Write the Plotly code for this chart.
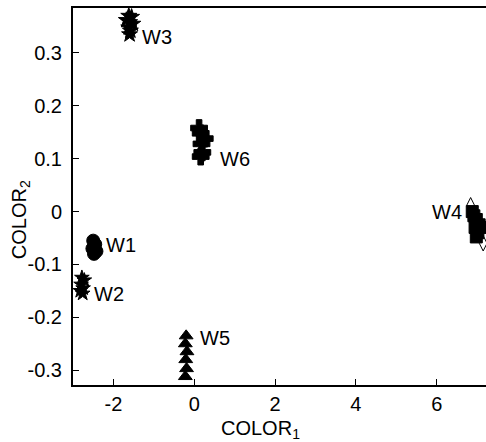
import plotly.graph_objects as go

# W1 – circles
w1_x = [-2.50, -2.45, -2.52, -2.42, -2.48]
w1_y = [-0.055, -0.062, -0.070, -0.075, -0.080]
# W2 – stars
w2_x = [-2.78, -2.72, -2.80, -2.75, -2.82, -2.76]
w2_y = [-0.125, -0.130, -0.138, -0.145, -0.150, -0.155]
# W3 – stars
w3_x = [-1.62, -1.55, -1.68, -1.60, -1.52, -1.62, -1.58, -1.60]
w3_y = [0.370, 0.368, 0.362, 0.358, 0.355, 0.348, 0.342, 0.335]
# W4 – squares (filled) and two outlined points
w4_x = [6.88, 6.92, 6.98, 7.05, 6.95, 7.02, 6.98, 7.10]
w4_y = [0.000, -0.008, -0.015, -0.025, -0.030, -0.040, -0.048, -0.030]
w4o_x = [6.84, 7.15]
w4o_y = [0.012, -0.060]
# W5 – triangles
w5_x = [-0.20, -0.22, -0.18, -0.21, -0.19, -0.22]
w5_y = [-0.235, -0.250, -0.265, -0.280, -0.297, -0.312]
# W6 – crosses
w6_x = [0.12, 0.16, 0.26, 0.18, 0.20, 0.16]
w6_y = [0.158, 0.148, 0.138, 0.128, 0.112, 0.104]

labels = ["W1", "W2", "W3", "W4", "W5", "W6"]
label_x = [-1.80, -2.10, -0.92, 6.25, 0.52, 1.00]
label_y = [-0.063, -0.155, 0.330, 0.0, -0.240, 0.100]

groups = [
    (w1_x, w1_y, "circle", 13),
    (w2_x, w2_y, "star", 11),
    (w3_x, w3_y, "star", 12),
    (w4_x, w4_y, "square", 12),
    (w5_x, w5_y, "triangle-up", 12),
    (w6_x, w6_y, "cross", 14),
]

FONT = "Liberation Sans, Arial"
fig = go.Figure()
for (xs, ys, sym, sz), name in zip(groups, labels):
    fig.add_trace(go.Scatter(
        x=xs, y=ys, mode="markers", name=name,
        marker=dict(symbol=sym, size=sz, color="black",
                    line=dict(color="black", width=1)),
        cliponaxis=False, showlegend=False))
fig.add_trace(go.Scatter(
    x=w4o_x, y=w4o_y, mode="markers", name="W4 outline",
    marker=dict(symbol="diamond-tall-open", size=11, color="black",
                line=dict(color="black", width=1)),
    cliponaxis=False, showlegend=False))

for t, lx, ly in zip(labels, label_x, label_y):
    fig.add_annotation(x=lx, y=ly, text=t, showarrow=False,
                       font=dict(size=20, color="black", family=FONT))

# axis titles
fig.add_annotation(x=1.63, xref="x", y=-0.119, yref="paper", text="COLOR<sub>1</sub>",
                   showarrow=False, yanchor="middle",
                   font=dict(size=20, color="black", family=FONT))
fig.add_annotation(x=-0.128, xref="paper", y=-0.016, yref="y", text="COLOR<sub>2</sub>",
                   showarrow=False, textangle=-90, xanchor="center",
                   font=dict(size=20, color="black", family=FONT))

axis_font = dict(size=20, color="black", family=FONT)
fig.update_layout(
    width=486, height=442,
    margin=dict(l=73, r=0, t=8, b=57),
    plot_bgcolor="white", paper_bgcolor="white",
    font=dict(family=FONT, color="black"),
    xaxis=dict(range=[-3.0, 7.22], tickvals=[-2, 0, 2, 4, 6],
               ticktext=["-2", "0", "2", "4", "6"],
               ticks="inside", ticklen=6, tickcolor="black", tickwidth=1,
               showline=True, linecolor="black", linewidth=2, mirror=True,
               showgrid=False, zeroline=False, tickfont=axis_font),
    yaxis=dict(range=[-0.328, 0.385], tickvals=[-0.3, -0.2, -0.1, 0, 0.1, 0.2, 0.3],
               ticktext=["-0.3", "-0.2", "-0.1", "0", "0.1", "0.2", "0.3"],
               ticks="inside", ticklen=6, tickcolor="black", tickwidth=1,
               showline=True, linecolor="black", linewidth=2, mirror=False,
               showgrid=False, zeroline=False, tickfont=axis_font,
               ticklabelstandoff=5),
)

fig.write_html("out.html", config={"displayModeBar": False},
               post_script="document.body.style.margin='0';document.body.style.overflow='hidden';")
